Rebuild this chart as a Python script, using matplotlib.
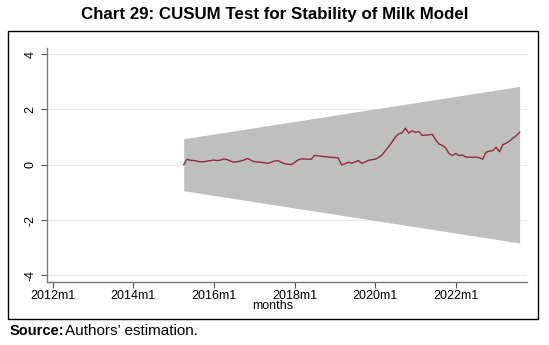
import matplotlib
matplotlib.use("Agg")
import matplotlib.pyplot as plt
from matplotlib.patches import Rectangle

plt.rcParams["font.family"] = ["Liberation Sans", "DejaVu Sans"]

# months counted from 2012m1 = 0
tick_months = [0, 24, 48, 72, 96, 120]
tick_labels = ["2012m1", "2014m1", "2016m1", "2018m1", "2020m1", "2022m1"]

start_month = 39  # 2015m4
cusum = [
    0.00, 0.20, 0.16, 0.15, 0.13, 0.10, 0.11, 0.13, 0.15, 0.17,
    0.15, 0.17, 0.21, 0.18, 0.13, 0.09, 0.11, 0.14, 0.17, 0.23,
    0.16, 0.11, 0.10, 0.09, 0.07, 0.05, 0.09, 0.13, 0.15, 0.09,
    0.04, 0.02, 0.00, 0.08, 0.17, 0.21, 0.21, 0.20, 0.20, 0.34,
    0.32, 0.31, 0.29, 0.28, 0.27, 0.26, 0.25, -0.01, 0.03, 0.09,
    0.06, 0.10, 0.15, 0.05, 0.10, 0.16, 0.18, 0.20, 0.26, 0.35,
    0.50, 0.65, 0.82, 1.00, 1.12, 1.15, 1.32, 1.14, 1.23, 1.17,
    1.20, 1.06, 1.07, 1.08, 1.10, 0.90, 0.75, 0.70, 0.60, 0.40,
    0.33, 0.41, 0.33, 0.35, 0.28, 0.27, 0.27, 0.28, 0.25, 0.20,
    0.45, 0.49, 0.51, 0.63, 0.47, 0.72, 0.78, 0.85, 0.96, 1.05,
    1.17,
]
months = list(range(start_month, start_month + len(cusum)))

# 5% significance band (straight lines between the end points)
band_months = [39, 139]
band_upper = [0.94, 2.83]
band_lower = [-0.94, -2.83]

W, H = 549, 345
fig = plt.figure(figsize=(W / 100, H / 100), dpi=100)
ax = fig.add_axes([47 / W, (H - 282) / H, (527 - 47) / W, (282 - 48) / H])

ax.fill_between(band_months, band_lower, band_upper, color="#bfbfbf", linewidth=0)
ax.plot(months, cusum, color="#8c2d3c", linewidth=1.0)

ax.set_xlim(-1.7, 141.2)
ax.set_ylim(-4.24, 4.22)
ax.set_xticks(tick_months)
ax.set_xticklabels(tick_labels)
ax.set_yticks([-4, -2, 0, 2, 4])
ax.set_yticklabels(["-4", "-2", "0", "2", "4"], rotation=90, va="center")
ax.tick_params(axis="both", colors="#555555", labelcolor="black", labelsize=9,
               length=4, width=0.8)
ax.tick_params(axis="x", pad=1.5)
ax.yaxis.grid(True, color="#eaeaea", linewidth=0.8)
ax.set_axisbelow(True)
for side in ["top", "right"]:
    ax.spines[side].set_visible(False)
for side in ["left", "bottom"]:
    ax.spines[side].set_color("#777777")
    ax.spines[side].set_linewidth(1.0)

fig.text(273 / W, 1 - 306 / H, "months", ha="center", va="center", fontsize=9)

fig.text(275 / W, 1 - 15 / H, "Chart 29: CUSUM Test for Stability of Milk Model",
         ha="center", va="center", fontsize=12.2, fontweight="bold")

# outer frame
fig.patches.append(Rectangle((7.5 / W, 1 - 319 / H), (538 - 7.5) / W, (319 - 31) / H,
                             transform=fig.transFigure, fill=False,
                             edgecolor="black", linewidth=1.0))

fig.text(10 / W, 1 - 331 / H, "Source:", ha="left", va="center",
         fontsize=10.5, fontweight="bold")
fig.text(65 / W, 1 - 331 / H, "Authors\u2019 estimation.", ha="left", va="center",
         fontsize=11)

fig.savefig("out.png", dpi=100)
